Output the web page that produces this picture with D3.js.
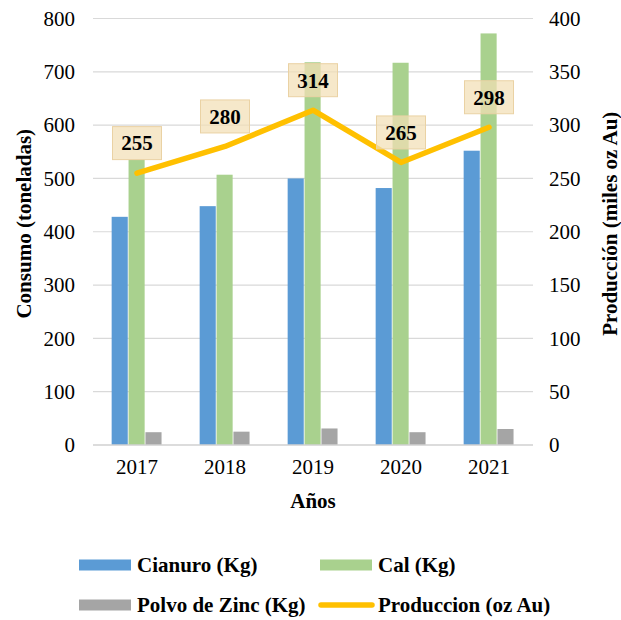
<!DOCTYPE html>
<html lang="es">
<head>
<meta charset="utf-8"/>
<title>Consumo y producción</title>
<script src="https://d3js.org/d3.v7.min.js"></script>
<style>
  body { margin: 0; background: #fff; }
  svg text { font-family: "Liberation Serif", "Times New Roman", serif; fill: #000; }
</style>
</head>
<body>
<svg id="chart" width="621" height="620"></svg>

<script>
// data
const years = ["2017", "2018", "2019", "2020", "2021"]
const cianuro = [428, 448, 500, 482, 552]
const cal = [535, 507, 718, 717, 772]
const zinc = [24, 25, 31, 24, 30]
const produccion = [255, 280, 314, 265, 298]
const leftTicks = [0, 100, 200, 300, 400, 500, 600, 700, 800]
const rightTicks = [0, 50, 100, 150, 200, 250, 300, 350, 400]

const barSeries = [
  { name: "Cianuro (Kg)", values: cianuro, color: "#5b9bd5" },
  { name: "Cal (Kg)", values: cal, color: "#a9d18e" },
  { name: "Polvo de Zinc (Kg)", values: zinc, color: "#a5a5a5" }
]
const lineColor = "#ffc000"

const svg = d3.select("#chart")
const plotL = 93, plotR = 533, plotT = 18.5, plotB = 445

const x = d3.scaleBand().domain(years).range([plotL, plotR]).paddingInner(0).paddingOuter(0)
const xi = d3.scaleBand().domain(d3.range(barSeries.length))
  .range([x.bandwidth() * 0.212, x.bandwidth() * 0.788])
const y = d3.scaleLinear().domain([0, 800]).range([plotB, plotT])
const y2 = d3.scaleLinear().domain([0, 400]).range([plotB, plotT])

// gridlines
svg.append("g").selectAll("line").data(leftTicks.slice(1)).join("line")
  .attr("x1", plotL).attr("x2", plotR)
  .attr("y1", d => y(d)).attr("y2", d => y(d))
  .attr("stroke", "#d9d9d9").attr("stroke-width", 1.2)

// left axis
const yAxis = svg.append("g").attr("transform", `translate(${plotL},0)`)
  .call(d3.axisLeft(y).tickValues(leftTicks).tickSize(0).tickPadding(18))
yAxis.select(".domain").remove()
yAxis.selectAll("text").style("font-size", "21px")

// right axis
const y2Axis = svg.append("g").attr("transform", `translate(${plotR},0)`)
  .call(d3.axisRight(y2).tickValues(rightTicks).tickSize(0).tickPadding(16))
y2Axis.select(".domain").remove()
y2Axis.selectAll("text").style("font-size", "21px")

// bars
const groups = svg.append("g").selectAll("g").data(years).join("g")
  .attr("transform", d => `translate(${x(d)},0)`)
groups.selectAll("rect")
  .data((d, i) => barSeries.map((s, k) => ({ k, v: s.values[i], color: s.color })))
  .join("rect")
  .attr("x", d => xi(d.k))
  .attr("width", xi.bandwidth() - 0.8)
  .attr("y", d => y(d.v))
  .attr("height", d => y(0) - y(d.v))
  .attr("fill", d => d.color)

// baseline
svg.append("line").attr("x1", plotL).attr("x2", plotR)
  .attr("y1", plotB).attr("y2", plotB)
  .attr("stroke", "#d0d0d0").attr("stroke-width", 1.5)

// x axis labels
const xAxis = svg.append("g").attr("transform", `translate(0,${plotB})`)
  .call(d3.axisBottom(x).tickSize(0).tickPadding(14))
xAxis.select(".domain").remove()
xAxis.selectAll("text").style("font-size", "21px")

// production line
const cx = d => x(d) + x.bandwidth() / 2
svg.append("path")
  .datum(years.map((d, i) => [cx(d), y2(produccion[i])]))
  .attr("d", d3.line())
  .attr("fill", "none").attr("stroke", lineColor)
  .attr("stroke-width", 5.5).attr("stroke-linejoin", "round").attr("stroke-linecap", "round")

// data labels
const labels = svg.append("g").selectAll("g").data(years).join("g")
  .attr("transform", (d, i) => `translate(${cx(d)},${y2(produccion[i]) - 30})`)
labels.append("rect")
  .attr("x", -24.5).attr("y", -16.5).attr("width", 49).attr("height", 33)
  .attr("fill", "#f3dfb6").attr("fill-opacity", 0.72)
  .attr("stroke", "#ead2a4").attr("stroke-width", 1)
labels.append("text")
  .attr("text-anchor", "middle").attr("dy", "0.35em")
  .style("font-size", "21px").style("font-weight", "bold")
  .text((d, i) => produccion[i])

// axis titles
svg.append("text").attr("transform", `translate(31,${(plotT + plotB) / 2 - 8}) rotate(-90)`)
  .attr("text-anchor", "middle").style("font-size", "21px").style("font-weight", "bold")
  .text("Consumo (toneladas)")
svg.append("text").attr("transform", `translate(602,${(plotT + plotB) / 2 - 8}) rotate(-90)`)
  .attr("text-anchor", "middle").attr("dy", "0.7em").style("font-size", "21px").style("font-weight", "bold")
  .text("Producción (miles oz Au)")
svg.append("text").attr("x", (plotL + plotR) / 2).attr("y", 508)
  .attr("text-anchor", "middle").style("font-size", "21px").style("font-weight", "bold")
  .text("Años")

// legend
const legendItems = [
  { name: barSeries[0].name, color: barSeries[0].color, type: "bar", x: 79, y: 565 },
  { name: barSeries[1].name, color: barSeries[1].color, type: "bar", x: 320, y: 565 },
  { name: barSeries[2].name, color: barSeries[2].color, type: "bar", x: 79, y: 605 },
  { name: "Produccion (oz Au)", color: lineColor, type: "line", x: 320, y: 605 }
]
const leg = svg.append("g").selectAll("g").data(legendItems).join("g")
  .attr("transform", d => `translate(${d.x},${d.y})`)
leg.filter(d => d.type === "bar").append("rect")
  .attr("x", 0).attr("y", -5.5).attr("width", 52).attr("height", 11)
  .attr("fill", d => d.color)
leg.filter(d => d.type === "line").append("line")
  .attr("x1", 1).attr("x2", 52).attr("y1", 0).attr("y2", 0)
  .attr("stroke", d => d.color).attr("stroke-width", 5.5).attr("stroke-linecap", "round")
leg.append("text").attr("x", 58).attr("dy", "0.35em")
  .style("font-size", "21px").style("font-weight", "bold")
  .text(d => d.name)
</script>
</body>
</html>
